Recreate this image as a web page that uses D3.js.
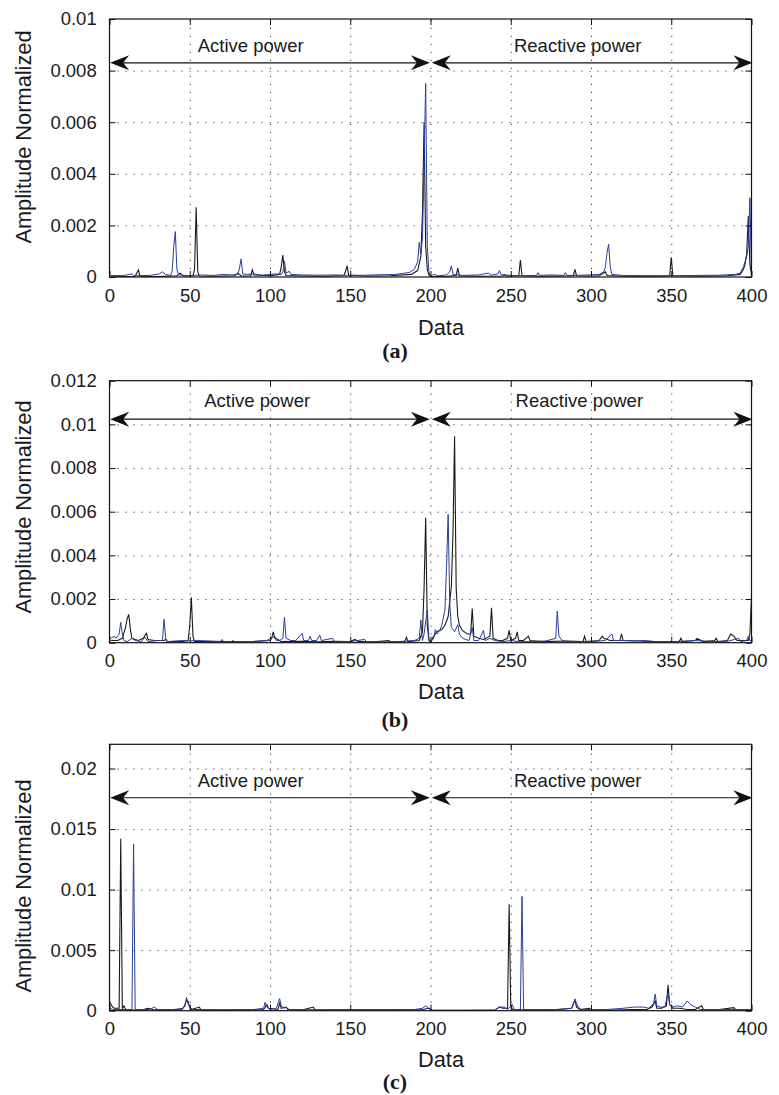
<!DOCTYPE html>
<html lang="en">
<head>
<meta charset="UTF-8">
<title>Amplitude Normalized</title>
<script src="https://d3js.org/d3.v7.min.js"></script>
<style>
  body { margin: 0; background: #fff; }
  svg { display: block; background: #fff; }
  text { font-family: "Liberation Sans", Arial, Helvetica, sans-serif; fill: #1a1a1a; }
  .grid line { stroke: #3a3a3a; stroke-width: 1; stroke-dasharray: 1.2,6.8; }
  .grid path, .ticks path { display: none; }
  .ticks line { stroke: #111; }
  .ticks text { font-size: 18.5px; }
  .bare text { display: none; }
  .caption { font-family: "Liberation Serif", "Times New Roman", serif; font-weight: bold; font-size: 22px; }
</style>
</head>
<body>
<script>
// shared x axis
var xTicks = [0, 50, 100, 150, 200, 250, 300, 350, 400];

// y ticks of each panel
var yTicksA = [0, 0.002, 0.004, 0.006, 0.008, 0.01];
var yLabelsA = ["0", "0.002", "0.004", "0.006", "0.008", "0.01"];
var yTicksB = [0, 0.002, 0.004, 0.006, 0.008, 0.01, 0.012];
var yLabelsB = ["0", "0.002", "0.004", "0.006", "0.008", "0.01", "0.012"];
var yTicksC = [0, 0.005, 0.01, 0.015, 0.02];
var yLabelsC = ["0", "0.005", "0.01", "0.015", "0.02"];

var captions = ["(a)", "(b)", "(c)"];
var sectionNames = ["Active power", "Reactive power"];

// panel (a) series, [data index, amplitude]
var blackA = [[1,0.00004],[10,0.00002],[16,0.00003],[18,0.00027],[19,0.00003],[30,0.00002],[42,0.00005],[44,0.00015],[46,0.00004],
  [52,0.00005],[53,0.0003],[54,0.0027],[55,0.0002],[56,0.00004],[65,0.00003],[78,0.00005],[80,0.00015],[82,0.00004],[88,0.00005],
  [89,0.00028],[90,0.00008],[100,0.00005],[106,0.0001],[107,0.0004],[108,0.00085],[109,0.0002],[110,0.00006],[120,0.00004],
  [135,0.00003],[146,0.00006],[147,0.0002],[148,0.00043],[149,0.00008],[160,0.00004],[175,0.00005],[188,0.0001],[192,0.00025],
  [194,0.0008],[195,0.0025],[196,0.006],[197,0.0012],[198,0.0003],[199,0.00008],[200,0.00002],[210,0.00003],[216,0.00006],
  [217,0.00034],[218,0.00005],[230,0.00003],[245,0.00004],[246,0.0001],[247,0.00004],[255,0.00005],[256,0.00066],[257,0.00005],
  [270,0.00003],[289,0.00005],[290,0.0003],[291,0.00005],[305,0.00004],[309,0.0002],[310,0.00006],[320,0.00003],[340,0.00003],
  [349,0.00005],[350,0.00076],[351,0.00005],[370,0.00003],[385,0.00005],[393,0.0001],[395,0.0003],[396,0.0005],[397,0.0009],
  [398,0.00236],[399,0.0005],[400,0.0001]];
var blueA = [[1,0.00006],[8,0.00005],[14,0.00012],[15,0.00005],[25,0.00006],[31,0.00012],[33,0.0002],[35,0.0001],[38,0.00006],
  [39,0.0002],[40,0.00115],[41,0.00176],[42,0.0003],[43,0.00008],[50,0.00005],[58,0.00008],[65,0.00006],[70,0.0001],[76,0.00008],
  [80,0.0001],[81,0.00035],[82,0.0007],[83,0.00012],[86,0.0001],[90,0.00012],[95,0.00007],[100,0.0001],[104,0.00012],[107,0.0001],
  [108,0.0002],[109,0.00062],[110,0.00015],[112,0.00022],[113,0.0001],[120,0.00008],[130,0.00007],[140,0.00008],[150,0.00006],
  [160,0.00007],[170,0.00009],[178,0.0001],[183,0.00014],[187,0.00018],[190,0.0003],[192,0.0006],[193,0.00134],[194,0.0009],
  [195,0.0015],[196,0.0045],[197,0.0075],[198,0.0012],[199,0.0002],[200,0.00003],[202,0.0001],[205,0.00005],[210,0.00008],
  [212,0.0002],[213,0.00043],[214,0.0001],[220,0.00006],[230,0.00008],[236,0.00015],[238,0.00007],[242,0.00012],[243,0.00025],
  [244,0.00008],[255,0.00005],[266,0.00006],[267,0.00017],[268,0.00006],[275,0.00008],[283,0.00006],[284,0.00017],[285,0.00006],
  [295,0.00007],[305,0.0001],[308,0.0002],[309,0.0004],[310,0.00095],[311,0.00127],[312,0.0004],[313,0.0001],[320,0.00006],
  [335,0.00005],[350,0.00005],[365,0.00006],[380,0.00007],[390,0.0001],[393,0.00015],[395,0.0004],[397,0.0008],[398,0.0012],
  [399,0.00307],[400,0.0002]];

// panel (b)
var blackB = [[1,0.0001],[5,0.0001],[8,0.0002],[10,0.0007],[11,0.0011],[12,0.0013],[13,0.0006],[14,0.0002],[16,0.00015],[18,0.0001],
  [21,0.0002],[23,0.00043],[24,0.00015],[28,0.0001],[34,0.0001],[35,0.00015],[36,0.00005],[45,0.00005],[49,0.0001],[50,0.0008],
  [51,0.00208],[52,0.0003],[53,0.00005],[60,0.00006],[75,0.00005],[90,0.00006],[100,0.0001],[101,0.0002],[102,0.0005],[103,0.0002],
  [105,0.00015],[107,0.00005],[120,0.00006],[130,0.00004],[140,0.00006],[150,0.00005],[153,0.00015],[155,0.00005],[165,0.00004],
  [174,0.0001],[175,0.00004],[184,0.00006],[185,0.00025],[186,0.00005],[193,0.0001],[195,0.0005],[196,0.0025],[197,0.00572],
  [198,0.0008],[199,0.0001],[200,0.00002],[202,0.0003],[204,0.0005],[207,0.0006],[209,0.0008],[211,0.0012],[213,0.0026],[214,0.005],
  [215,0.00946],[216,0.0025],[217,0.0012],[218,0.0008],[220,0.00055],[223,0.0004],[225,0.0004],[226,0.00157],[227,0.0003],
  [230,0.0002],[233,0.00015],[237,0.0003],[238,0.0016],[239,0.0002],[242,0.0001],[245,0.0001],[248,0.0002],[249,0.00057],
  [250,0.0001],[253,0.0002],[254,0.0005],[255,0.0001],[258,0.0001],[261,0.0003],[262,0.0001],[270,0.00005],[285,0.00008],
  [295,0.00005],[296,0.0003],[297,0.00005],[305,0.0001],[307,0.0003],[308,0.0002],[312,0.0001],[318,0.0001],[319,0.0004],
  [320,0.0001],[330,0.00008],[340,0.00005],[355,0.00006],[356,0.0002],[357,0.00005],[365,0.0001],[366,0.0002],[370,0.00005],
  [377,0.0001],[378,0.0002],[379,0.00005],[385,0.0001],[387,0.0004],[389,0.0003],[391,0.0001],[398,0.0001],[399,0.0004],[400,0.0021]];
var blueB = [[1,0.0002],[3,0.0003],[4,0.0002],[6,0.0004],[7,0.00093],[8,0.0004],[9,0.0001],[11,0.00005],[14,0.0002],[16,0.0001],
  [20,0.00005],[22,0.00025],[24,0.00005],[30,0.0001],[33,0.0001],[34,0.00107],[35,0.0002],[36,0.00005],[45,0.0001],[50,0.00008],
  [55,0.0001],[60,0.00008],[69,0.00005],[70,0.00015],[71,0.00005],[76,0.00005],[77,0.0001],[78,0.00005],[90,0.00005],[98,0.0001],
  [103,0.0003],[104,0.0001],[106,0.0001],[108,0.0002],[109,0.00116],[110,0.0002],[113,0.0001],[116,0.0001],[120,0.00043],
  [121,0.0001],[124,0.0001],[125,0.0003],[126,0.0001],[129,0.0001],[131,0.00035],[132,0.0001],[139,0.0002],[140,0.00005],
  [150,0.00005],[159,0.00015],[160,0.00005],[170,0.00004],[180,0.00005],[190,0.0001],[193,0.0002],[194,0.00104],[195,0.0001],
  [196,0.0004],[198,0.0015],[199,0.0002],[200,0.00003],[202,0.0002],[203,0.0006],[204,0.0004],[206,0.0006],[207,0.0008],
  [209,0.0015],[210,0.0035],[211,0.00588],[212,0.0018],[213,0.0007],[215,0.0005],[217,0.00082],[218,0.0004],[220,0.0002],
  [224,0.0001],[226,0.0007],[227,0.0001],[230,0.0001],[233,0.00057],[234,0.0001],[237,0.0002],[240,0.0001],[245,0.00005],
  [250,0.0001],[255,0.00005],[265,0.00005],[272,0.00008],[278,0.0002],[279,0.00145],[280,0.0003],[282,0.0001],[286,0.00005],
  [300,0.00005],[309,0.0001],[313,0.0004],[314,0.0001],[320,0.0001],[327,0.00008],[333,0.0001],[340,0.00005],[350,0.00005],
  [362,0.00008],[365,0.0001],[375,0.00005],[385,0.00006],[392,0.0002],[393,0.00005],[397,0.0001],[398,0.0003],[399,0.0001],[400,0.0001]];

// panel (c)
var blackC = [[0,0.00075],[1,0.0005],[2,0.0003],[3,0.0002],[6,0.0002],[7,0.0142],[8,0.0002],[9,0.0004],[10,0.0001],[15,0.00005],
  [20,0.00005],[24,0.0002],[27,0.0001],[35,0.00005],[45,0.0001],[47,0.0004],[48,0.001],[49,0.0006],[51,0.0001],[56,0.0003],
  [57,0.00005],[70,0.00005],[85,0.00005],[96,0.0001],[98,0.0005],[99,0.0002],[105,0.0001],[106,0.0006],[107,0.0002],[110,0.0003],
  [111,0.0001],[120,0.00005],[127,0.0003],[128,0.00005],[140,0.00005],[160,0.00005],[180,0.00005],[195,0.0001],[199,0.0002],
  [201,0.00005],[220,0.00003],[240,0.00005],[243,0.0003],[245,0.0002],[248,0.0002],[249,0.0088],[250,0.0004],[251,0.0001],
  [260,0.00005],[275,0.00005],[288,0.0002],[290,0.0009],[291,0.0003],[293,0.0001],[299,0.0002],[300,0.00005],[315,0.00005],
  [325,0.0001],[335,0.0001],[338,0.0003],[340,0.0008],[341,0.0002],[344,0.0002],[347,0.0004],[348,0.00213],[349,0.0005],
  [351,0.0002],[355,0.0002],[360,0.0001],[365,0.0001],[369,0.0004],[370,0.0001],[380,0.0001],[389,0.00025],[390,0.0001],[400,0.00005]];
var blueC = [[0,0.0002],[2,0.0001],[10,0.0001],[14,0.0001],[15,0.01377],[16,0.0001],[20,0.0001],[25,0.0001],[28,0.0003],[30,0.0001],
  [40,0.0001],[46,0.0002],[48,0.0009],[49,0.0008],[50,0.0002],[52,0.0001],[70,0.00008],[90,0.0001],[96,0.0002],[97,0.0007],
  [98,0.0003],[100,0.0001],[104,0.0002],[106,0.001],[107,0.0004],[109,0.0002],[110,0.0003],[112,0.0001],[130,0.00008],
  [150,0.0001],[170,0.0001],[190,0.0001],[195,0.0002],[197,0.0004],[199,0.0002],[200,0.00003],[220,0.00003],[240,0.00003],
  [243,0.0003],[246,0.0003],[248,0.0001],[251,0.0005],[252,0.0001],[256,0.0001],[257,0.00944],[258,0.0001],[265,0.0001],
  [280,0.0001],[288,0.0002],[290,0.00094],[292,0.0003],[294,0.0001],[310,0.0001],[320,0.0002],[327,0.0003],[330,0.0003],
  [333,0.0003],[336,0.0002],[339,0.0006],[340,0.00138],[341,0.0004],[343,0.0003],[346,0.0003],[348,0.0015],[349,0.0005],
  [351,0.0003],[354,0.0004],[357,0.0003],[360,0.0008],[362,0.0005],[365,0.0003],[368,0.0001],[380,0.0001],[395,0.0001],[400,0.0001]];

var width = 779, height = 1095;
var left = 109.5, right = 751.5;

// layout of the three stacked panels
var panels = [
  { black: blackA, blue: blueA, yMax: 0.01,  ticks: yTicksA, labels: yLabelsA, top: 19,    bottom: 277,
    arrowAt: 0.0083,  textAt: 0.00897, textX: [55, 252], ylabelY: 137, dataY: 327,  capY: 350 },
  { black: blackB, blue: blueB, yMax: 0.012, ticks: yTicksB, labels: yLabelsB, top: 380.7, bottom: 642.7,
    arrowAt: 0.01024, textAt: 0.01111, textX: [59, 253], ylabelY: 507, dataY: 691,  capY: 719 },
  { black: blackC, blue: blueC, yMax: 0.022, ticks: yTicksC, labels: yLabelsC, top: 744.3, bottom: 1010.7,
    arrowAt: 0.01758, textAt: 0.01901, textX: [55, 252], ylabelY: 886, dataY: 1059, capY: 1081 }
];

var svg = d3.select("body").append("svg")
  .attr("width", width)
  .attr("height", height);

var x = d3.scaleLinear().domain([0, 400]).range([left, right]);

function head(tx, ty, dir) {
  // matlab style arrow head, dir = 1 points right, -1 points left
  var L = 19, w = 7.5, n = 13;
  return "M" + tx + "," + ty +
    "L" + (tx - dir * L) + "," + (ty - w) +
    "L" + (tx - dir * n) + "," + ty +
    "L" + (tx - dir * L) + "," + (ty + w) + "Z";
}

panels.forEach(function (p, i) {
  var g = svg.append("g");
  var y = d3.scaleLinear().domain([0, p.yMax]).range([p.bottom, p.top]);
  var h = p.bottom - p.top, w = right - left;

  // dotted grid
  g.append("g").attr("class", "grid")
    .attr("transform", "translate(0," + p.bottom + ")")
    .call(d3.axisBottom(x).tickValues(xTicks.slice(1, -1)).tickSize(-h).tickFormat(""));
  g.append("g").attr("class", "grid")
    .attr("transform", "translate(" + left + ",0)")
    .call(d3.axisLeft(y).tickValues(p.ticks.filter(function (t) { return t > 0 && t < p.yMax; })).tickSize(-w).tickFormat(""));

  // data lines
  var clipId = "clip" + i;
  g.append("clipPath").attr("id", clipId).append("rect")
    .attr("x", left).attr("y", p.top).attr("width", w).attr("height", h);

  var line = d3.line()
    .x(function (d) { return x(d[0]); })
    .y(function (d) { return y(d[1]); });

  g.append("path").datum(p.black)
    .attr("clip-path", "url(#" + clipId + ")")
    .attr("fill", "none").attr("stroke", "#1a1a1a").attr("stroke-width", 1.1)
    .attr("d", line);
  g.append("path").datum(p.blue)
    .attr("clip-path", "url(#" + clipId + ")")
    .attr("fill", "none").attr("stroke", "#2b3d9c").attr("stroke-width", 1)
    .attr("d", line);

  // axes with inward ticks on all four sides
  g.append("g").attr("class", "ticks")
    .attr("transform", "translate(0," + p.bottom + ")")
    .call(d3.axisBottom(x).tickValues(xTicks).tickSizeInner(-6).tickSizeOuter(0).tickPadding(11.5));
  g.append("g").attr("class", "ticks bare")
    .attr("transform", "translate(0," + p.top + ")")
    .call(d3.axisTop(x).tickValues(xTicks).tickSizeInner(-6).tickSizeOuter(0));
  g.append("g").attr("class", "ticks")
    .attr("transform", "translate(" + left + ",0)")
    .call(d3.axisLeft(y).tickValues(p.ticks).tickSizeInner(-6).tickSizeOuter(0).tickPadding(12.8)
      .tickFormat(function (d, k) { return p.labels[k]; }));
  g.append("g").attr("class", "ticks bare")
    .attr("transform", "translate(" + right + ",0)")
    .call(d3.axisRight(y).tickValues(p.ticks).tickSizeInner(-6).tickSizeOuter(0));

  g.append("rect")
    .attr("x", left).attr("y", p.top).attr("width", w).attr("height", h)
    .attr("fill", "none").attr("stroke", "#111").attr("stroke-width", 1.2);

  // double arrows for the two halves
  var ay = y(p.arrowAt);
  var spans = [[0.4, 199.6], [200.8, 400.6]];
  spans.forEach(function (s) {
    g.append("line")
      .attr("x1", x(s[0]) + 4).attr("x2", x(s[1]) - 4)
      .attr("y1", ay).attr("y2", ay)
      .attr("stroke", "#111").attr("stroke-width", 1.1);
    g.append("path").attr("d", head(x(s[0]), ay, -1)).attr("fill", "#111");
    g.append("path").attr("d", head(x(s[1]), ay, 1)).attr("fill", "#111");
  });

  sectionNames.forEach(function (name, k) {
    g.append("text")
      .attr("x", x(p.textX[k])).attr("y", y(p.textAt))
      .attr("dy", "0.35em")
      .style("font-size", "18.5px")
      .text(name);
  });

  g.append("text")
    .attr("transform", "translate(31," + p.ylabelY + ") rotate(-90)")
    .attr("text-anchor", "middle")
    .style("font-size", "21.8px")
    .text("Amplitude Normalized");

  g.append("text")
    .attr("x", 441).attr("y", p.dataY).attr("dy", "0.35em")
    .attr("text-anchor", "middle")
    .style("font-size", "21.8px")
    .text("Data");

  g.append("text")
    .attr("class", "caption")
    .attr("x", 395).attr("y", p.capY).attr("dy", "0.35em")
    .attr("text-anchor", "middle")
    .text(captions[i]);
});
</script>
</body>
</html>
